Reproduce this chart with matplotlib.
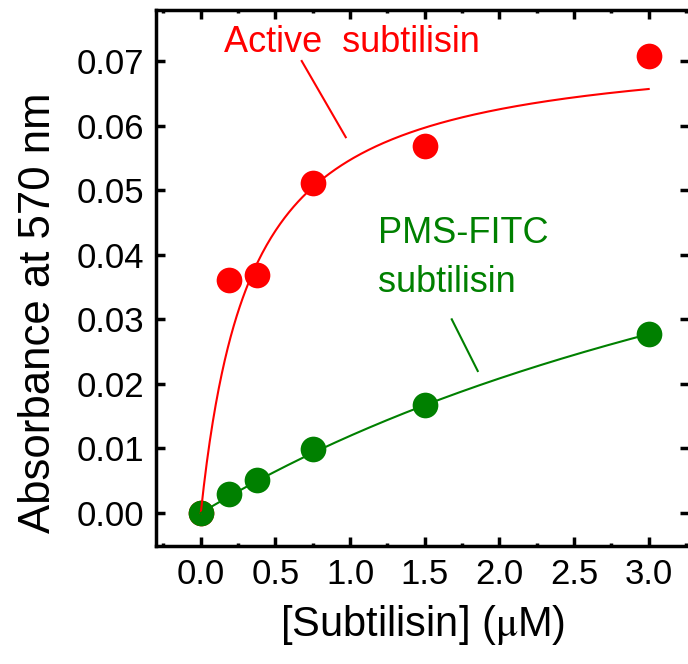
import matplotlib
matplotlib.use("Agg")
import matplotlib.pyplot as plt
from matplotlib.ticker import MultipleLocator, FormatStrFormatter
import numpy as np

# ---- data ----
conc = [0.0, 0.1875, 0.375, 0.75, 1.5, 3.0]            # [Subtilisin] (uM)
active_abs = [0.0, 0.0361, 0.0369, 0.0511, 0.0568, 0.0708]
pms_abs = [0.0, 0.0029, 0.0051, 0.0099, 0.0167, 0.0277]

# hyperbolic fit parameters (Vmax, K)
active_fit = (0.0730, 0.335)
pms_fit = (0.0813, 5.8)

RED = "#ff0000"
GREEN = "#008000"

plt.rcParams["font.family"] = ["Liberation Sans", "DejaVu Sans"]
plt.rcParams["mathtext.fontset"] = "stix"

fig = plt.figure(figsize=(6.88, 6.64), dpi=100)
ax = fig.add_axes([156 / 688, 118 / 664, 533 / 688, 536 / 664])

# markers first, fit lines on top
ax.plot(conc, active_abs, "o", color=RED, ms=18.5, mec="none", zorder=2)
ax.plot(conc, pms_abs, "o", color=GREEN, ms=18.5, mec="none", zorder=2)

xfit = np.linspace(0, conc[-1], 300)
vmax, k = active_fit
ax.plot(xfit, vmax * xfit / (k + xfit), color=RED, lw=1.5, zorder=3)
vmax, k = pms_fit
ax.plot(xfit, vmax * xfit / (k + xfit), color=GREEN, lw=1.5, zorder=4)

# labels with pointer lines
ax.text(0.154, 0.0714, "Active  subtilisin", color=RED, fontsize=26, va="baseline", ha="left")
ax.plot([0.676, 0.971], [0.0700, 0.0582], color=RED, lw=1.5)
ax.text(1.186, 0.0418, "PMS-FITC", color=GREEN, fontsize=26, va="baseline", ha="left")
ax.text(1.186, 0.0342, "subtilisin", color=GREEN, fontsize=26, va="baseline", ha="left")
ax.plot([1.681, 1.855], [0.0300, 0.0220], color=GREEN, lw=1.5)

ax.set_xlim(-0.3, 3.27)
ax.set_ylim(-0.0051, 0.0779)

ax.xaxis.set_major_locator(MultipleLocator(0.5))
ax.xaxis.set_minor_locator(MultipleLocator(0.25))
ax.xaxis.set_major_formatter(FormatStrFormatter("%.1f"))
ax.yaxis.set_major_locator(MultipleLocator(0.01))
ax.yaxis.set_major_formatter(FormatStrFormatter("%.2f"))

for s in ax.spines.values():
    s.set_linewidth(2.5)
ax.tick_params(which="both", direction="in", top=True, right=True, width=2.5)
ax.tick_params(which="major", length=6.5, labelsize=25, pad=8.6)
ax.tick_params(which="minor", length=2.2)

ax.set_xlabel(r"[Subtilisin] ($\mathrm{\mu}$M)", fontsize=30, labelpad=9)
ax.set_ylabel("Absorbance at 570 nm", fontsize=31.5)
ax.yaxis.set_label_coords(-0.182, 0.435)

fig.savefig("out.png", dpi=100)
